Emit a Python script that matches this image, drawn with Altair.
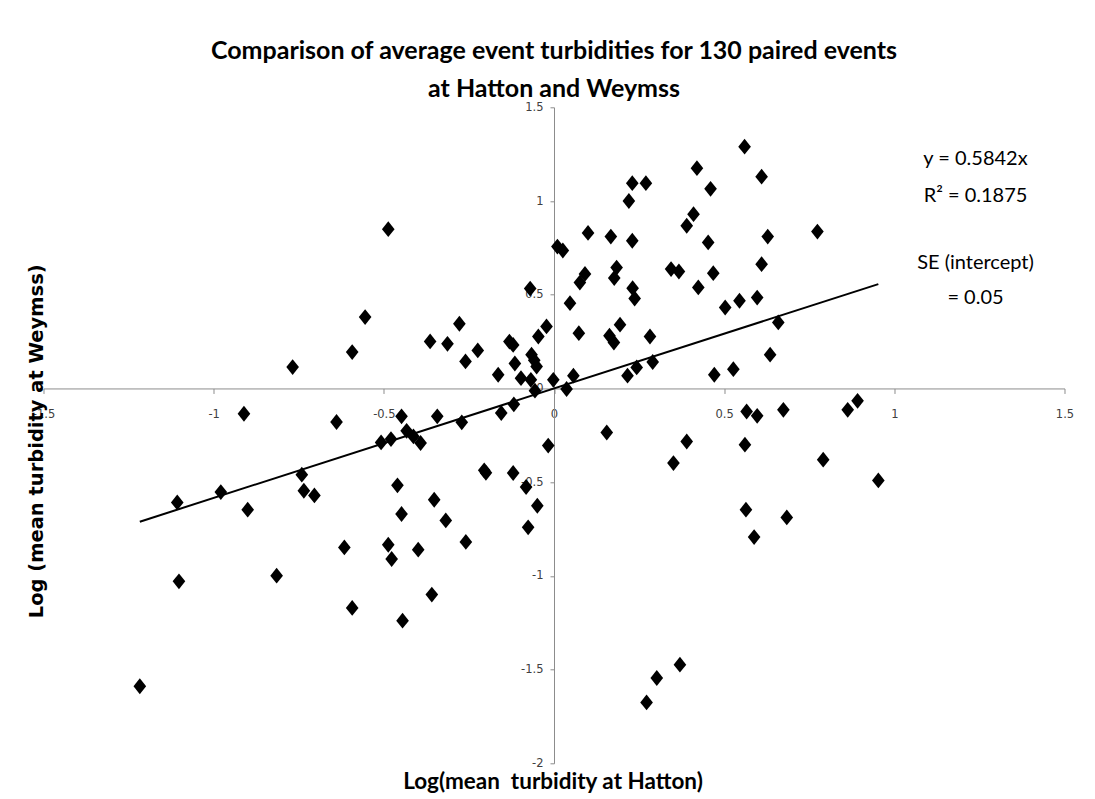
import altair as alt
import pandas as pd

# ---- data ----
x_hatton = [
    0.56, 0.42, 0.61, 0.23, 0.27, 0.46, 0.22, 0.41, 0.39, 0.10,
    0.167, 0.774, 0.628, 0.23, 0.453, 0.01, 0.026, 0.61, 0.184, 0.344,
    0.367, 0.468, 0.091, 0.076, 0.177, -0.07, 0.231, 0.237, 0.424, 0.047,
    0.545, 0.597, 0.503, -0.022, 0.194, 0.659, 0.073, 0.163, 0.176, 0.282,
    -0.046, -0.131, -0.12, -0.066, -0.058, -0.115, -0.051, 0.635, 0.29, 0.243,
    0.216, 0.527, 0.471, 0.057, -0.002, -0.097, -0.164, -0.068, 0.037, -0.056,
    -0.155, -0.118, 0.566, 0.597, 0.674, 0.863, 0.892, 0.155, -0.017, 0.39,
    0.561,
    -0.555, -0.768, -0.593, -0.364, -0.313, -0.278, -0.224, -0.26, -0.911, -0.639,
    -0.448, -0.343, -0.271, -0.433, -0.508, -0.479, -0.413, -0.392, -0.205, -0.2,
    -1.107, -0.979, -0.741, -0.735, -0.704, -0.9, -0.46, -0.352, -0.448, -0.318,
    -0.259, -0.616, -0.487, -0.477, -0.399, -1.102, -0.815, -0.359, -0.593, -0.445,
    -0.12, -0.082, -0.049, -0.076, 0.351, 0.791, 0.953, 0.564, 0.684, 0.588,
    0.37, 0.302, 0.272, -0.487, -1.217,
]
y_weymss = [
    1.29, 1.175, 1.13, 1.095, 1.095, 1.065, 1.0, 0.93, 0.868, 0.83,
    0.81, 0.837, 0.81, 0.788, 0.779, 0.757, 0.736, 0.663, 0.645, 0.637,
    0.624, 0.615, 0.611, 0.565, 0.589, 0.533, 0.535, 0.48, 0.539, 0.455,
    0.468, 0.485, 0.432, 0.331, 0.34, 0.352, 0.295, 0.281, 0.245, 0.277,
    0.277, 0.25, 0.232, 0.18, 0.15, 0.133, 0.117, 0.18, 0.141, 0.112,
    0.068, 0.103, 0.073, 0.068, 0.046, 0.055, 0.073, 0.046, -0.003, -0.012,
    -0.131, -0.085, -0.123, -0.146, -0.114, -0.114, -0.066, -0.235, -0.305, -0.283,
    -0.3,
    0.381, 0.114, 0.194, 0.251, 0.238, 0.345, 0.203, 0.144, -0.135, -0.179,
    -0.149, -0.149, -0.181, -0.226, -0.288, -0.27, -0.256, -0.291, -0.437, -0.45,
    -0.608, -0.553, -0.46, -0.546, -0.571, -0.647, -0.517, -0.594, -0.67, -0.704,
    -0.819, -0.848, -0.834, -0.91, -0.86, -1.029, -0.999, -1.1, -1.171, -1.239,
    -0.451, -0.526, -0.626, -0.741, -0.398, -0.38, -0.491, -0.647, -0.688, -0.793,
    -1.474, -1.545, -1.675, 0.85, -1.589,
]
slope = 0.5842

x_domain = [-1.5, 1.5]
y_domain = [-2.0, 1.5]
tick_values_x = [-1.5, -1, -0.5, 0, 0.5, 1, 1.5]
tick_values_y = [-2, -1.5, -1, -0.5, 0, 0.5, 1, 1.5]

title_line1 = "Comparison of average event turbidities for 130 paired events"
title_line2 = "at Hatton and Weymss"
x_title = "Log(mean\u00a0 turbidity at Hatton)"
y_title = "Log (mean turbidity at Weymss)"
annotations = ["y = 0.5842x", "R² = 0.1875", "SE (intercept)", "= 0.05"]

# ---- layout ----
W, H = 1021, 656
# pixel position of the origin inside the plot, used to cross the axes at 0
x0_px = (0 - x_domain[0]) / (x_domain[1] - x_domain[0]) * W
y0_px = (y_domain[1] - 0) / (y_domain[1] - y_domain[0]) * H

pts = pd.DataFrame({"x": x_hatton, "y": y_weymss})
line_df = pd.DataFrame({"x": [min(x_hatton), max(x_hatton)]})
line_df["y"] = slope * line_df["x"]

xs = alt.Scale(domain=x_domain, nice=False, zero=False)
ys = alt.Scale(domain=y_domain, nice=False, zero=False)

axis_common = dict(
    grid=False, title="", labelExpr="'' + datum.value",
    domainColor="#8c8c8c", tickColor="#8c8c8c", labelColor="#404040",
    labelFont="DejaVu Sans", labelFontSize=11.5, labelOverlap=False,
    labelFlush=False,
)
x_axis = alt.Axis(values=tick_values_x, offset=-(H - y0_px), tickSize=5,
                  labelPadding=15, **axis_common)
y_axis = alt.Axis(values=tick_values_y, offset=-x0_px, tickSize=4,
                  labelPadding=7, **axis_common)

diamond = "M-0.8,0L0,-1L0.8,0L0,1Z"

points = alt.Chart(pts).mark_point(
    shape=diamond, filled=True, color="black", size=250, opacity=1
).encode(
    x=alt.X("x:Q", scale=xs, axis=x_axis),
    y=alt.Y("y:Q", scale=ys, axis=y_axis),
)

trend = alt.Chart(line_df).mark_line(color="black", strokeWidth=2).encode(
    x=alt.X("x:Q", scale=xs, axis=x_axis),
    y=alt.Y("y:Q", scale=ys, axis=y_axis),
)


def text_layer(s, px, py, size, weight="normal", font="Lato", angle=0,
               baseline="alphabetic"):
    df = pd.DataFrame({"label": [s]})
    kw = dict(fontSize=size, fontWeight=weight, font=font, color="black",
              align="center", baseline=baseline)
    if angle:
        kw["angle"] = angle
    return alt.Chart(df).mark_text(**kw).encode(
        text="label:N", x=alt.value(px), y=alt.value(py)
    )


texts = [
    text_layer(title_line1, W / 2, -48, 25, "bold"),
    text_layer(title_line2, W / 2, -10.5, 25, "bold"),
    text_layer(x_title, W / 2 - 1, 682, 22.5, "bold"),
    text_layer(y_title, -6.5, H / 2 + 6, 19.5, "bold", font="DejaVu Sans",
               angle=270, baseline="middle"),
    text_layer(annotations[0], 932, 51.7, 20, baseline="middle"),
    text_layer(annotations[1], 932, 88.7, 20, baseline="middle"),
    text_layer(annotations[2], 932, 155.7, 20, baseline="middle"),
    text_layer(annotations[3], 932, 190.7, 20, baseline="middle"),
]

chart = alt.layer(points, trend, *texts).properties(
    width=W, height=H,
    autosize=alt.AutoSizeParams(type="none"),
    padding={"left": 35.5, "top": 99.3, "right": 22.5, "bottom": 36},
).configure(
    background="white",
    view=alt.ViewConfig(stroke="transparent", strokeWidth=0),
)

chart.save("out.html", embed_options={"renderer": "svg", "actions": False})
